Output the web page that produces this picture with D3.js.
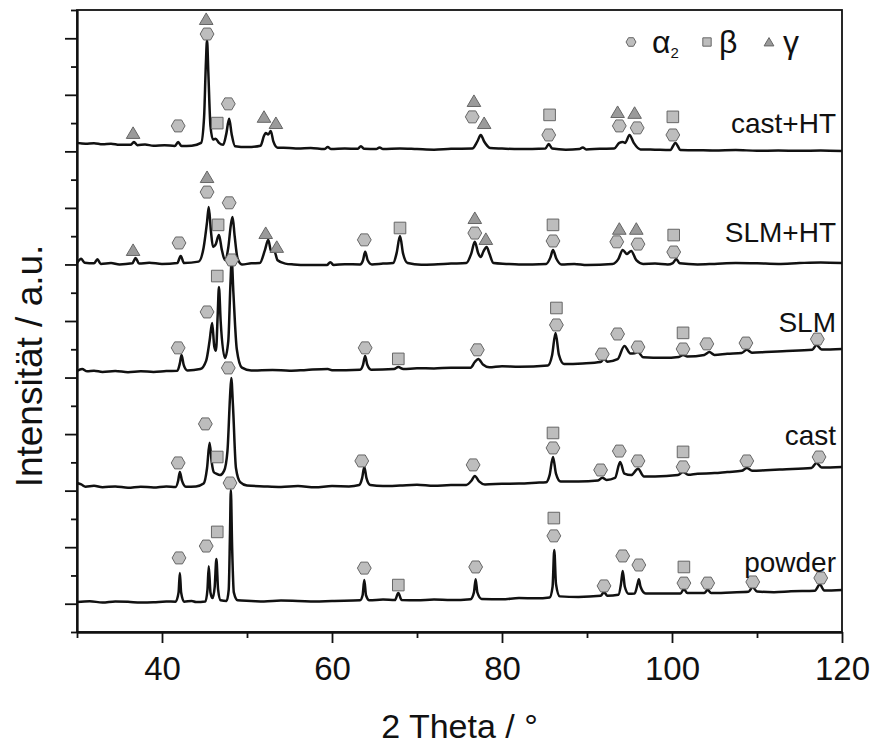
<!DOCTYPE html>
<html>
  <head>
    <meta charset="utf-8">
    <title>XRD patterns</title>
    <script src="https://d3js.org/d3.v7.min.js"></script>
    <style>
      html, body { margin: 0; padding: 0; background: #fff; }
      svg { display: block; }
      text { font-family: "Liberation Sans", Arial, sans-serif; fill: #111; }
      .trace { fill: none; stroke: #111; stroke-width: 2.5px; stroke-linejoin: round; }
      .axis path, .axis line { stroke: #111; stroke-width: 1.8px; }
      .axis text { font-size: 33px; }
      .mark { stroke: #666; stroke-width: 1px; }
    </style>
  </head>
  <body>
    <script>

    // 2 theta (deg) vs intensity, already stacked (a.u.)
    var powder = [[30,1.06],[31.5,1.09],[33,1.04],[34.5,1.08],[36,1.07],[37.5,1.04],[39,1.05],[40.5,1.08],[41.6,1.07],[41.95,1.4],[42.1,2.09],[42.25,1.4],[42.6,1.07],
      [43.5,1.1],[44,1.06],[45.1,1.08],[45.35,1.5],[45.5,2.33],[45.7,1.4],[45.95,1.2],[46.2,1.6],[46.4,2.58],[46.6,1.5],
      [46.9,1.12],[47.6,1.1],[47.85,1.5],[48.0,3.5],[48.1,5.02],[48.25,3.0],[48.45,1.4],[48.9,1.12],[50.5,1.1],[52,1.08],[54,1.11],[56,1.1],
      [58,1.08],[60,1.1],[63.3,1.12],[63.6,1.3],[63.8,1.84],[64.0,1.3],[64.4,1.12],[66,1.15],[67.4,1.13],[67.8,1.38],[68.2,1.13],[70,1.12],[72,1.15],
      [74,1.13],[76.3,1.16],[76.7,1.4],[76.9,1.87],[77.1,1.4],[77.6,1.17],[80,1.16],[82,1.2],[84,1.19],[85.6,1.22],[85.95,1.6],[86.15,2.9],[86.35,1.7],
      [86.8,1.26],[89,1.24],[91.6,1.28],[92.0,1.41],[92.4,1.28],[93.7,1.32],[94.0,1.7],[94.2,2.16],[94.45,1.6],[94.9,1.35],
      [95.6,1.36],[95.95,1.7],[96.1,1.87],[96.3,1.6],[96.9,1.36],[99,1.36],[101.0,1.36],[101.4,1.52],[101.8,1.38],
      [103.8,1.38],[104.2,1.49],[104.6,1.38],[107,1.4],[109.0,1.42],[109.5,1.59],[110.0,1.43],[112,1.41],[114,1.44],[116.8,1.46],
      [117.4,1.68],[117.9,1.47],[120,1.49]];

    var cast = [[30,5.27],[30.5,5.22],[31,5.14],[32,5.17],[33,5.12],[34.5,5.15],[36,5.1],[37.5,5.14],[39,5.11],[40.5,5.15],[41.6,5.13],[41.9,5.35],[42.1,5.66],
      [42.35,5.35],[42.8,5.14],[44,5.15],[44.9,5.25],[45.3,5.8],[45.6,6.69],[45.85,6.0],[46.1,5.65],[46.4,5.6],[46.8,5.55],
      [47.3,5.7],[47.7,6.4],[48.0,8.3],[48.15,8.98],[48.35,8.0],[48.7,5.8],[49.2,5.3],[50,5.18],[52,5.15],[54,5.13],[56,5.16],[58,5.12],
      [60,5.16],[62,5.15],[63.2,5.2],[63.55,5.45],[63.8,5.84],[64.05,5.45],[64.5,5.2],[66,5.16],[68,5.18],[70,5.21],[72,5.17],[74,5.2],[75.8,5.2],[76.4,5.35],
      [76.8,5.52],[77.3,5.33],[78,5.22],[80,5.24],[82,5.25],[84,5.28],[85.2,5.3],[85.6,5.55],[86.0,6.19],[86.35,5.6],[86.9,5.32],[89,5.32],
      [91.3,5.36],[91.8,5.46],[92.3,5.38],[93.3,5.45],[93.9,6.01],[94.4,5.6],[95.2,5.55],[96.0,5.77],[96.7,5.5],[98,5.5],
      [100.7,5.55],[101.3,5.66],[101.9,5.56],[103,5.6],[105,5.62],[106.5,5.66],[108.2,5.7],[108.8,5.8],[109.5,5.7],[111,5.72],[113,5.75],[116.4,5.8],
      [117.0,5.98],[117.6,5.82],[120,5.84]];

    var slm = [[30,9.23],[30.6,9.3],[31.2,9.22],[32,9.24],[33,9.2],[34.5,9.23],[36,9.19],[37.5,9.22],[39,9.2],[40.5,9.23],[41.8,9.24],[42.1,9.5],[42.3,9.8],[42.55,9.45],
      [43,9.25],[44.5,9.3],[45.2,9.6],[45.6,10.3],[45.9,10.93],[46.15,10.1],[46.35,9.95],[46.55,11.2],[46.7,12.2],[46.9,11.0],
      [47.4,9.69],[47.8,10.3],[48.05,12.3],[48.2,13.16],[48.4,12.0],[48.8,10.0],[49.4,9.35],[50.5,9.25],[53,9.27],[55,9.24],[57,9.27],[59.5,9.3],
      [60,9.26],[63.3,9.28],[63.65,9.45],[63.9,9.76],[64.15,9.45],[64.6,9.28],[67.3,9.3],[67.8,9.37],[68.4,9.3],[70,9.33],[72,9.32],
      [74,9.35],[76.3,9.35],[76.8,9.55],[77.2,9.66],[77.8,9.45],[78.5,9.36],[80,9.4],[82,9.38],[85.4,9.43],[85.9,9.8],[86.3,10.58],[86.7,9.8],
      [87.3,9.48],[89.5,9.5],[91.6,9.55],[92.0,9.66],[92.4,9.56],[93.6,9.65],[94.4,10.12],[95.1,9.85],[95.6,9.86],[96.0,9.9],
      [96.6,9.72],[99,9.7],[100.8,9.73],[101.3,9.8],[101.8,9.74],[103.8,9.8],[104.4,9.9],[105,9.8],[106.5,9.84],[108.2,9.87],[108.8,9.98],
      [109.4,9.88],[111,9.9],[113,9.93],[116.5,9.98],[117,10.15],[117.6,9.99],[120,10.01]];

    var slmHT = [[30,13.05],[30.5,13.2],[30.9,13.06],[32.0,13.04],[32.4,13.18],[32.8,13.02],[34,13.05],[35,13.0],[36.5,13.04],[36.9,13.23],
      [37.3,13.03],[38.5,13.06],[40,13.02],[41.8,13.05],[42.2,13.3],[42.6,13.05],[44.3,13.1],[44.9,13.6],[45.3,14.5],[45.5,15.03],
      [45.75,14.2],[46.0,13.62],[46.3,13.7],[46.7,14.04],[47.05,13.5],[47.4,13.16],[47.8,13.6],[48.1,14.4],[48.3,14.68],
      [48.55,14.0],[48.9,13.2],[49.4,13.0],[50.5,13.04],[51.5,13.05],[52.1,13.5],[52.5,13.87],[52.85,13.45],[53.2,13.48],[53.6,13.15],
      [54.5,13.03],[55.5,13.0],[57,12.98],[59.4,12.98],[59.8,13.08],[60.2,12.98],[61.5,13.01],[63.3,13.0],[63.65,13.15],[63.9,13.45],[64.2,13.15],
      [64.7,13.0],[66,13.03],[67.2,13.05],[67.6,13.4],[68.0,14.01],[68.35,13.4],[68.9,13.05],[70.5,12.99],[72,13.0],[74,13.03],[75.8,13.05],[76.4,13.4],
      [76.8,13.8],[77.2,13.4],[77.5,13.26],[77.8,13.45],[78.2,13.62],[78.5,13.4],[79,13.05],[80.5,13.02],[82,13.0],[85.2,13.02],
      [85.7,13.25],[86.0,13.51],[86.4,13.2],[87,13.0],[88.5,13.02],[90,12.98],[93.0,13.02],[93.7,13.2],[94.2,13.51],[94.7,13.37],
      [95.2,13.48],[95.8,13.15],[96.6,13.02],[98,13.03],[99.5,13.0],[100.1,13.05],[100.5,13.19],[100.9,13.04],[103,13.0],[105,13.02],[107.5,13.05],[110,13.04],
      [112.5,13.02],[115,13.05],[117.5,13.07],[120,13.05]];

    var castHT = [[30,17.3],[31,17.27],[32,17.29],[33,17.25],[34,17.27],[35,17.23],[36.3,17.23],[36.7,17.33],[37.1,17.22],[38,17.24],[39,17.2],[40.3,17.22],[41.5,17.19],
      [41.9,17.33],[42.3,17.19],[43.5,17.2],[44.6,17.3],[44.95,18.2],[45.15,20.0],[45.3,20.94],[45.45,19.8],[45.7,17.9],
      [46.0,17.42],[46.3,17.45],[46.7,17.3],[47.2,17.23],[47.55,17.6],[47.9,18.15],[48.2,17.6],[48.6,17.18],[50,17.15],
      [51.6,17.2],[52.0,17.55],[52.2,17.65],[52.5,17.6],[52.8,17.72],[53.1,17.35],[53.6,17.13],[55,17.12],[56,17.1],[57.5,17.12],[59.1,17.08],
      [59.5,17.15],[59.9,17.08],[61.5,17.1],[63.0,17.09],[63.4,17.18],[63.8,17.09],[65.2,17.08],[65.6,17.14],[66.0,17.08],[68,17.1],[70,17.08],
      [72,17.06],[74,17.09],[76.5,17.1],[77.1,17.35],[77.5,17.58],[77.9,17.35],[78.6,17.12],[80,17.1],[82,17.08],[85.1,17.1],[85.5,17.26],[85.9,17.1],
      [87.5,17.06],[89.1,17.08],[89.5,17.14],[89.9,17.07],[91.5,17.09],[93.2,17.1],[93.8,17.3],[94.2,17.33],[94.5,17.3],[95.0,17.58],[95.5,17.3],
      [96.3,17.07],[98,17.06],[99.8,17.05],[100.4,17.3],[101.0,17.05],[103,17.04],[105,17.03],[107.5,17.05],[110,17.02],[112.5,17.03],[115,17.02],[117.5,17.03],[120,17.01]];

    var traces = [powder, cast, slm, slmHT, castHT];
    var traceNames = ["powder", "cast", "SLM", "SLM+HT", "cast+HT"];
    var labelLevels = [2.12, 6.61, 10.61, 13.8, 17.65];

    // phase markers: [phase, 2 theta, level]
    var peakMarks = [
      // powder
      ["a",42.0,2.62],["a",45.2,3.04],["b",46.5,3.54],["a",48.0,5.27],["a",63.8,2.26],["b",67.8,1.66],["a",76.9,2.3],
      ["a",86.1,3.4],["b",86.1,4.03],["a",92.0,1.63],["a",94.2,2.69],["a",96.1,2.37],["a",101.4,1.73],["b",101.4,2.3],
      ["a",104.2,1.73],["a",109.5,1.77],["a",117.5,1.91],
      // cast
      ["a",41.9,5.98],["a",45.1,7.36],["b",46.5,6.19],["a",47.8,9.34],["a",63.5,6.05],["a",76.6,5.91],["a",86.0,6.51],
      ["b",86.0,7.04],["a",91.6,5.73],["a",93.8,6.4],["a",96.0,6.05],["a",101.3,5.84],["b",101.3,6.37],["a",108.8,6.05],
      ["a",117.3,6.19],
      // SLM
      ["a",41.9,10.05],["a",45.3,11.32],["b",46.5,12.59],["a",48.2,13.16],["a",63.9,10.05],["b",67.8,9.66],["a",77.1,9.98],
      ["a",86.4,10.86],["b",86.4,11.46],["a",91.8,9.83],["a",93.6,10.54],["a",96.0,10.08],["a",101.3,10.01],["b",101.3,10.58],
      ["a",104.1,10.19],["a",108.7,10.22],["a",117.1,10.36],
      // SLM+HT
      ["g",36.6,13.51],["a",42.0,13.76],["a",45.3,15.56],["g",45.3,16.09],["b",46.6,14.4],["a",47.9,15.18],["g",52.2,14.11],
      ["g",53.5,13.62],["a",63.8,13.87],["b",68.0,14.29],["a",76.8,14.11],["g",76.8,14.64],["g",78.1,13.9],["a",86.0,13.83],
      ["b",86.0,14.4],["a",93.5,13.8],["g",93.8,14.26],["a",96.0,13.72],["g",95.8,14.26],["a",100.2,13.44],["b",100.2,14.04],
      // cast+HT
      ["g",36.6,17.65],["a",41.9,17.9],["a",45.3,21.15],["g",45.2,21.68],["b",46.5,18.0],["a",47.8,18.68],["g",52.0,18.22],
      ["g",53.4,18.0],["a",76.5,18.22],["g",76.7,18.78],["g",77.9,18.0],["a",85.5,17.58],["b",85.6,18.29],["a",93.8,17.9],
      ["a",95.9,17.83],["g",93.6,18.39],["g",95.6,18.36],["a",100.1,17.58],["b",100.1,18.22]
    ];

    var xMajor = [40, 60, 80, 100, 120];
    var xMinor = [30, 50, 70, 90, 110];
    var yMajor = [1, 3, 5, 7, 9, 11, 13, 15, 17, 19, 21];
    var yMinor = [0, 2, 4, 6, 8, 10, 12, 14, 16, 18, 20, 22];

    var width = 876, height = 746;
    var margin = {left: 77, right: 34, top: 10, bottom: 114};

    var x = d3.scaleLinear().domain([30, 120]).range([margin.left, width - margin.right]);
    var y = d3.scaleLinear().domain([0, 22]).range([height - margin.bottom, margin.top]);

    var svg = d3.select("body").append("svg")
        .attr("width", width)
        .attr("height", height);

    // marker shapes
    var hexagon = { draw: function(ctx, r) {
      for (var i = 0; i < 6; i++) {
        var a = Math.PI / 3 * i;
        if (i === 0) ctx.moveTo(r * Math.cos(a), r * Math.sin(a));
        else ctx.lineTo(r * Math.cos(a), r * Math.sin(a));
      }
      ctx.closePath();
    }};
    var square = { draw: function(ctx, r) {
      ctx.rect(-r, -r, 2 * r, 2 * r);
    }};
    var triangle = { draw: function(ctx, r) {
      ctx.moveTo(0, -r * 0.9);
      ctx.lineTo(r, r * 0.8);
      ctx.lineTo(-r, r * 0.8);
      ctx.closePath();
    }};
    var shapes = {a: hexagon, b: square, g: triangle};
    var fills = {a: "#bdbdbd", b: "#bdbdbd", g: "#9a9a9a"};
    var sizes = {a: 6.9, b: 5.8, g: 6.8};

    var line = d3.line()
        .x(function(d) { return x(d[0]); })
        .y(function(d) { return y(d[1]); })
        .curve(d3.curveMonotoneX);

    svg.selectAll(".trace")
        .data(traces)
        .enter().append("path")
        .attr("class", "trace")
        .attr("d", line);

    svg.selectAll(".mark")
        .data(peakMarks)
        .enter().append("path")
        .attr("class", "mark")
        .attr("transform", function(d) { return "translate(" + x(d[1]) + "," + y(d[2]) + ")"; })
        .attr("d", function(d) { return d3.symbol().type(shapes[d[0]]).size(sizes[d[0]])(); })
        .style("fill", function(d) { return fills[d[0]]; });

    // sample labels
    svg.selectAll(".label")
        .data(traceNames)
        .enter().append("text")
        .attr("class", "label")
        .attr("x", x(120) - 6)
        .attr("y", function(d, i) { return y(labelLevels[i]); })
        .attr("text-anchor", "end")
        .style("font-size", "28px")
        .text(function(d) { return d; });

    // axes
    var bottom = height - margin.bottom;
    svg.append("g").attr("class", "axis")
        .attr("transform", "translate(0," + bottom + ")")
        .call(d3.axisBottom(x).tickValues(xMajor).tickSize(11).tickPadding(14).tickSizeOuter(0));
    svg.append("g").attr("class", "axis")
        .attr("transform", "translate(0," + bottom + ")")
        .call(d3.axisBottom(x).tickValues(xMinor).tickSize(6).tickFormat("").tickSizeOuter(0));
    svg.append("g").attr("class", "axis")
        .attr("transform", "translate(" + margin.left + ",0)")
        .call(d3.axisLeft(y).tickValues(yMajor).tickSize(12).tickFormat("").tickSizeOuter(0));
    svg.append("g").attr("class", "axis")
        .attr("transform", "translate(" + margin.left + ",0)")
        .call(d3.axisLeft(y).tickValues(yMinor).tickSize(6).tickFormat("").tickSizeOuter(0));

    svg.append("rect")
        .attr("x", margin.left)
        .attr("y", margin.top)
        .attr("width", width - margin.left - margin.right)
        .attr("height", height - margin.top - margin.bottom)
        .style("fill", "none")
        .style("stroke", "#111")
        .style("stroke-width", 1.8);

    svg.append("text")
        .attr("x", (margin.left + width - margin.right) / 2)
        .attr("y", 738)
        .attr("text-anchor", "middle")
        .style("font-size", "34px")
        .text("2 Theta / °");

    svg.append("text")
        .attr("transform", "translate(42,366) rotate(-90)")
        .attr("text-anchor", "middle")
        .style("font-size", "37px")
        .text("Intensität / a.u.");

    // legend
    var legendItems = [["a", 631, 652], ["b", 707, 719], ["g", 769, 783]];
    var legendNames = {a: "α", b: "β", g: "γ"};
    legendItems.forEach(function(d) {
      svg.append("path")
          .attr("class", "mark")
          .attr("transform", "translate(" + d[1] + ",42)")
          .attr("d", d3.symbol().type(shapes[d[0]]).size(sizes[d[0]] * 0.72)())
          .style("fill", fills[d[0]]);
      var t = svg.append("text")
          .attr("x", d[2])
          .attr("y", 53)
          .style("font-size", "32px")
          .text(legendNames[d[0]]);
      if (d[0] === "a") {
        t.append("tspan").attr("dy", 5).style("font-size", "15px").text("2");
      }
    });

    </script>
  </body>
</html>
